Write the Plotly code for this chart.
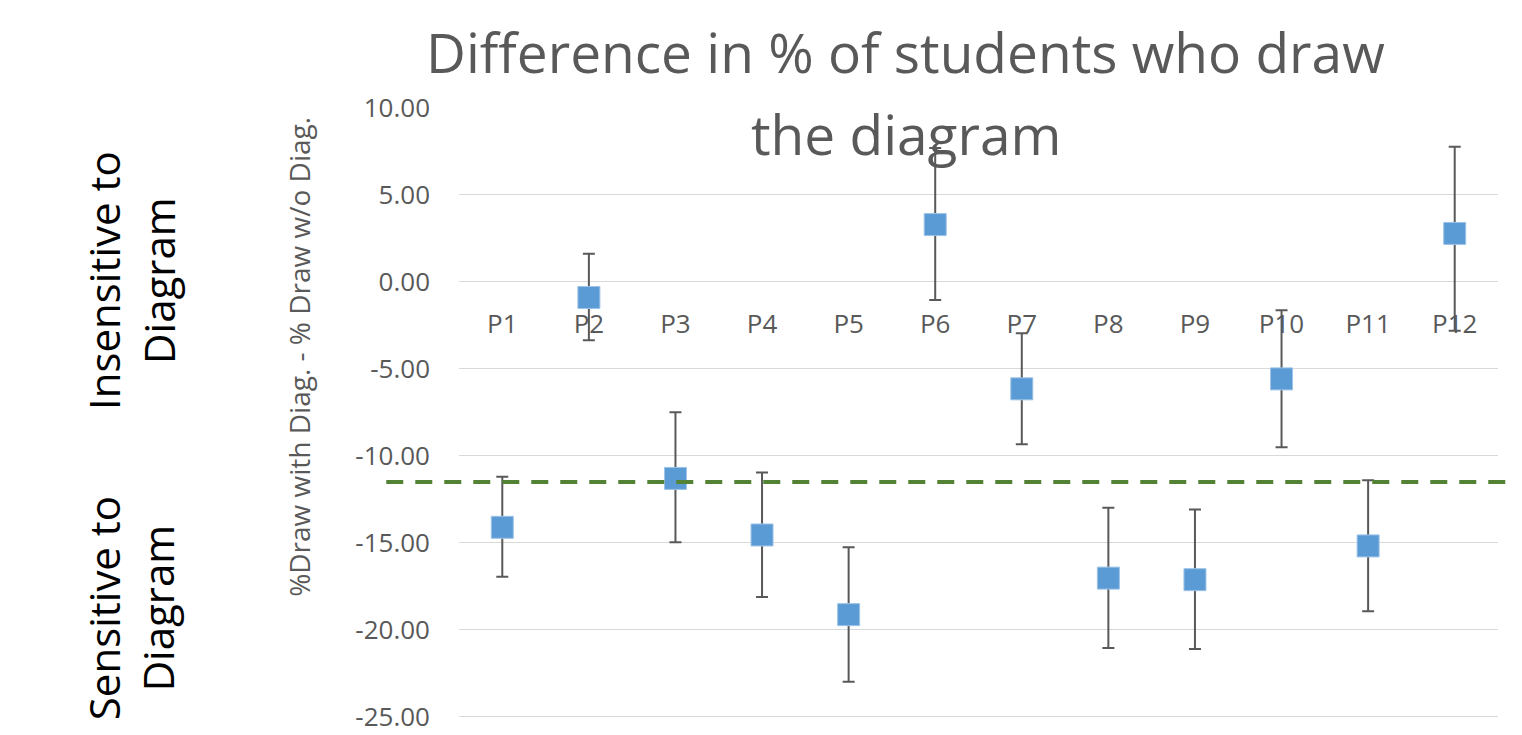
import plotly.graph_objects as go

categories = ["P1", "P2", "P3", "P4", "P5", "P6", "P7", "P8", "P9", "P10", "P11", "P12"]
values = [-14.10, -0.89, -11.29, -14.54, -19.12, 3.30, -6.14, -17.02, -17.11, -5.57, -15.17, 2.79]
upper = [-11.20, 1.63, -7.48, -10.95, -15.24, 7.70, -2.95, -12.97, -13.07, -1.62, -11.39, 7.78]
lower = [-16.94, -3.35, -14.96, -18.10, -22.97, -1.03, -9.33, -21.04, -21.10, -9.50, -18.92, -2.80]
threshold = -11.5
y_ticks = [10, 5, 0, -5, -10, -15, -20, -25]
y_tick_labels = ["10.00", "5.00", "0.00", "-5.00", "-10.00", "-15.00", "-20.00", "-25.00"]
y_range = [-25.06, 10.0]

err_plus = [u - v for u, v in zip(upper, values)]
err_minus = [v - l for v, l in zip(values, lower)]

FONT = "Open Sans"
GREY = "#595959"

fig = go.Figure()
fig.add_trace(go.Scatter(
    x=categories, y=values, mode="markers",
    marker=dict(symbol="square", size=22, color="#5B9BD5",
                line=dict(color="#9DC3E6", width=1)),
    error_y=dict(type="data", symmetric=False, array=err_plus, arrayminus=err_minus,
                 color=GREY, thickness=2, width=6),
    showlegend=False,
))

fig.add_shape(type="line", xref="paper", yref="y", x0=-0.070, x1=1.03,
              y0=threshold, y1=threshold,
              line=dict(color="#548235", width=4, dash="17px,12px"))

zero_pos = (0 - y_range[0]) / (y_range[1] - y_range[0])

# page body has an 8px default margin, so the figure is sized to fit the window
fig.update_layout(
    width=1514, height=727,
    margin=dict(l=451, r=24, t=100, b=17),
    paper_bgcolor="white", plot_bgcolor="white",
    font=dict(family=FONT, color=GREY),
    xaxis=dict(type="category", range=[-0.5, 11.5], showgrid=False, showline=False,
               zeroline=False, ticks="", anchor="free", position=zero_pos, automargin=False,
               tickfont=dict(size=26, color=GREY, family=FONT), ticklabelstandoff=24),
    yaxis=dict(range=y_range, tickvals=y_ticks, ticktext=y_tick_labels, automargin=False,
               showgrid=True, gridcolor="#D9D9D9", gridwidth=1.3, zeroline=False,
               showline=False, ticks="", ticklabelstandoff=28, ticklabeloverflow="allow",
               tickfont=dict(size=26, color=GREY, family=FONT)),
)

ann = [
    dict(text="Difference in % of students who draw", x=0.430, y=1.092,
         font=dict(size=55, color=GREY, family=FONT)),
    dict(text="the diagram", x=0.430, y=0.959,
         font=dict(size=55, color=GREY, family=FONT)),
    dict(text="%Draw with Diag. - % Draw w/o Diag.", x=-0.154, y=0.592, textangle=-90,
         font=dict(size=28, color=GREY, family=FONT)),
    dict(text="Insensitive to<br>Diagram", x=-0.3157, y=0.718, textangle=-90,
         font=dict(size=42, color="black", family=FONT)),
    dict(text="Sensitive to<br>Diagram", x=-0.3157, y=0.180, textangle=-90,
         font=dict(size=42, color="black", family=FONT)),
]
for a in ann:
    fig.add_annotation(xref="paper", yref="paper", showarrow=False,
                       xanchor="center", yanchor="middle", **a)

fig.write_html("out.html")
